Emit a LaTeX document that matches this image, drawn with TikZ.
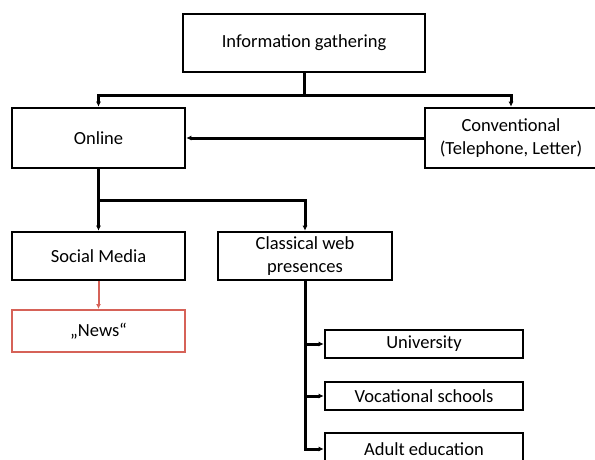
\documentclass[tikz,border=0pt]{standalone}
\usepackage{fontspec}
\setmainfont{Carlito}
\usetikzlibrary{arrows.meta}
\definecolor{newsred}{RGB}{214,98,88}
\begin{document}
\begin{tikzpicture}[x=1pt,y=-1pt,
  box/.style={draw=black,line width=2.6pt,rectangle,inner sep=0pt,align=center,font=\fontsize{18.5}{22.5}\selectfont},
  arr/.style={line width=3pt,-{Latex[length=5pt,width=5pt]}},
  redarr/.style={newsred,line width=2pt,-{Latex[length=5pt,width=5pt]}}]
\useasboundingbox (0,0) rectangle (595,459);
\node[box,minimum width=242pt,minimum height=58pt] (info) at (304,43) {Information gathering};
\node[box,minimum width=173pt,minimum height=60pt] (online) at (98.5,138) {Online};
\node[box,minimum width=172pt,minimum height=60pt] (conv) at (511,138) {Conventional\\(Telephone, Letter)};
\node[box,minimum width=173pt,minimum height=48pt] (social) at (98.5,256) {Social Media};
\node[box,minimum width=174pt,minimum height=48pt] (classical) at (305,256) {Classical web\\presences};
\node[box,draw=newsred,line width=2pt,minimum width=173pt,minimum height=42pt] (news) at (98.5,331) {„News“};
\node[box,minimum width=198pt,minimum height=28pt] (univ) at (424,344) {University};
\node[box,minimum width=198pt,minimum height=28pt] (voc) at (424,396) {Vocational schools};
\node[box,minimum width=198pt,minimum height=32pt] (adult) at (424,449) {Adult education};
\coordinate (jtop) at (304,95);
\coordinate (jon) at (98.5,200);
\draw[line width=3pt] (info.south) -- (jtop);
\draw[arr] (jtop) -| (online.north);
\draw[arr] (jtop) -| (conv.north);
\draw[arr] (conv.west) -- (online.east);
\draw[arr] (online.south) -- (social.north);
\draw[arr] (jon) -| (classical.north);
\draw[redarr] (social.south) -- (news.north);
\draw[arr] (classical.south) |- (univ.west);
\draw[arr] (classical.south) |- (voc.west);
\draw[arr] (classical.south) |- (adult.west);
\end{tikzpicture}
\end{document}
